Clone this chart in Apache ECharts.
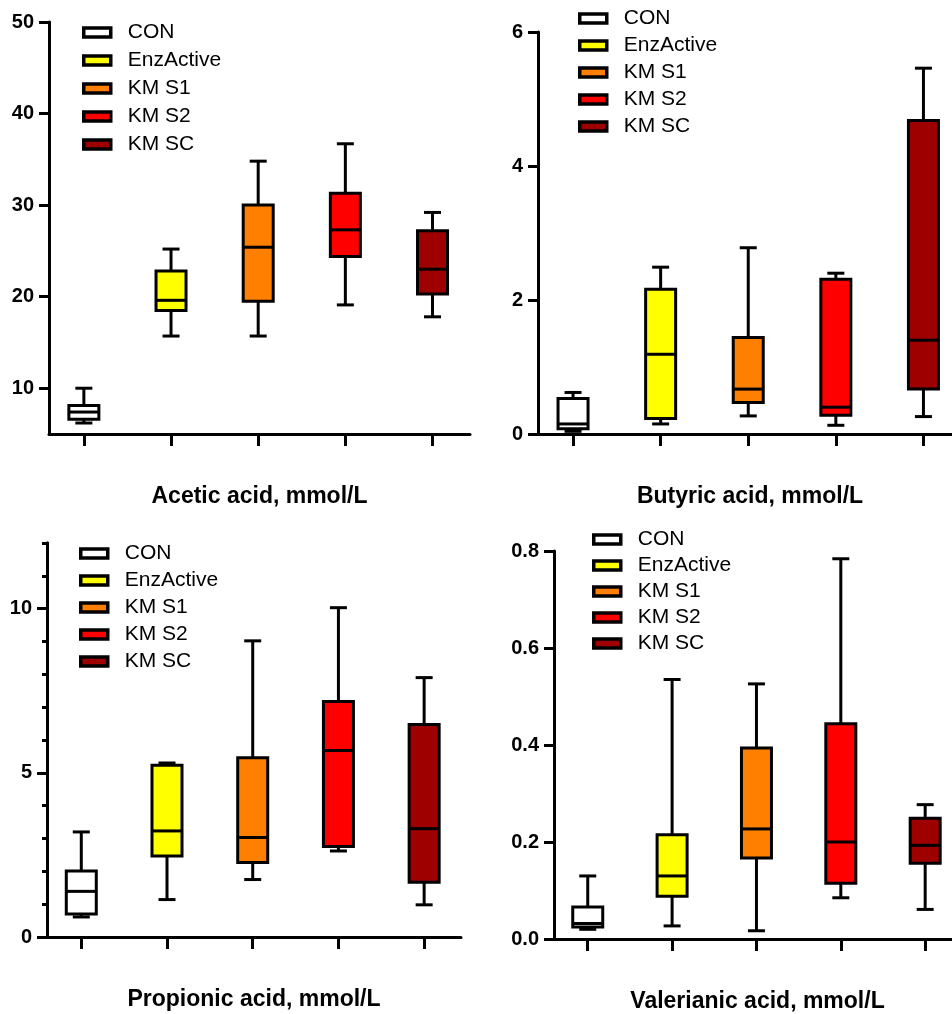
<!DOCTYPE html>
<html>
<head>
<meta charset="utf-8">
<script src="https://cdn.jsdelivr.net/npm/echarts@6/dist/echarts.min.js"></script>
<style>
  html, body { margin: 0; padding: 0; background: #fff; }
  #main { width: 952px; height: 1014px; }
</style>
</head>
<body>
<div id="main"></div>
<script>
var groups = ['CON', 'EnzActive', 'KM S1', 'KM S2', 'KM SC'];
var groupColors = ['#ffffff', '#ffff00', '#ff8000', '#ff0000', '#9e0000'];
var titles = ['Acetic acid, mmol/L', 'Butyric acid, mmol/L', 'Propionic acid, mmol/L', 'Valerianic acid, mmol/L'];

// each row: [min, Q1, median, Q3, max]
var acetic = [
    [6.2, 6.6, 7.4, 8.1, 10.0],
    [15.7, 18.5, 19.6, 22.8, 25.2],
    [15.7, 19.5, 25.4, 30.0, 34.8],
    [19.1, 24.4, 27.3, 31.3, 36.7],
    [17.8, 20.3, 23.0, 27.2, 29.2]
];
var butyric = [
    [0.04, 0.08, 0.15, 0.53, 0.62],
    [0.15, 0.23, 1.19, 2.16, 2.49],
    [0.27, 0.47, 0.67, 1.44, 2.78],
    [0.13, 0.28, 0.40, 2.31, 2.40],
    [0.26, 0.67, 1.40, 4.68, 5.46]
];
var propionic = [
    [0.61, 0.70, 1.39, 2.01, 3.20],
    [1.14, 2.47, 3.23, 5.23, 5.30],
    [1.75, 2.27, 3.03, 5.46, 9.02],
    [2.62, 2.76, 5.68, 7.17, 10.03],
    [0.98, 1.67, 3.30, 6.47, 7.90]
];
var valerianic = [
    [0.020, 0.025, 0.032, 0.066, 0.130],
    [0.027, 0.088, 0.130, 0.215, 0.535],
    [0.017, 0.167, 0.227, 0.394, 0.526],
    [0.085, 0.115, 0.200, 0.444, 0.784],
    [0.061, 0.156, 0.193, 0.249, 0.277]
];
var panelData = [acetic, butyric, propionic, valerianic];

var yMin = [5, 0, 0, 0];
var yMax = [50, 6, 12, 0.8];
var yLabels = [[10, 20, 30, 40, 50], [0, 2, 4, 6], [0, 5, 10], [0, 0.2, 0.4, 0.6, 0.8]];
var propionicMinor = [0, 1, 2, 3, 4, 5, 6, 7, 8, 9, 10, 11, 12];

// right-hand panels run off the page edge, so their x range is cut short
var xMax = [4.43, 4.326, 4.43, 4.318];
var grids = [
    { left: 49, top: 22, width: 421, height: 412 },
    { left: 538, top: 32, width: 414, height: 402 },
    { left: 47, top: 543, width: 414, height: 394 },
    { left: 554, top: 551, width: 398, height: 389 }
];
var namePad = [[0, 0, 0, 0], [0, 0, 0, 10], [0, 0, 0, 0], [0, 0, 0, 9]];
var legendPos = [
    { left: 82, top: 22, itemGap: 7 },
    { left: 578, top: 8, itemGap: 6 },
    { left: 79, top: 543, itemGap: 6 },
    { left: 592, top: 529, itemGap: 5 }
];

function renderBox(params, api) {
    var x = api.value(0);
    var pMin = api.coord([x, api.value(1)]);
    var pQ1 = api.coord([x, api.value(2)]);
    var pMed = api.coord([x, api.value(3)]);
    var pQ3 = api.coord([x, api.value(4)]);
    var pMax = api.coord([x, api.value(5)]);
    var cx = pMin[0];
    var half = 15, cap = 8.5;
    var ln = { stroke: '#000', lineWidth: 3 };
    return {
        type: 'group',
        children: [
            { type: 'line', shape: { x1: cx, y1: pMax[1], x2: cx, y2: pQ3[1] }, style: ln },
            { type: 'line', shape: { x1: cx, y1: pQ1[1], x2: cx, y2: pMin[1] }, style: ln },
            { type: 'line', shape: { x1: cx - cap, y1: pMax[1], x2: cx + cap, y2: pMax[1] }, style: ln },
            { type: 'line', shape: { x1: cx - cap, y1: pMin[1], x2: cx + cap, y2: pMin[1] }, style: ln },
            { type: 'rect', shape: { x: cx - half, y: pQ3[1], width: half * 2, height: pQ1[1] - pQ3[1] },
              style: { fill: api.visual('color'), stroke: '#000', lineWidth: 3 } },
            { type: 'line', shape: { x1: cx - half, y1: pMed[1], x2: cx + half, y2: pMed[1] }, style: ln }
        ]
    };
}

var axisLineStyle = { color: '#000', width: 3 };
var gridOpt = [], xAxes = [], yAxes = [], legends = [], series = [];

for (var p = 0; p < 4; p++) {
    gridOpt.push(grids[p]);
    xAxes.push({
        type: 'value', gridIndex: p, min: -0.4, max: xMax[p],
        name: titles[p], nameLocation: 'middle', nameGap: 51,
        nameTextStyle: { fontFamily: 'Liberation Sans', fontWeight: 'bold', fontSize: 23, color: '#000', padding: namePad[p] },
        axisLine: { onZero: false, lineStyle: axisLineStyle },
        axisTick: { customValues: [0, 1, 2, 3, 4], length: 12, lineStyle: axisLineStyle },
        axisLabel: { show: false },
        splitLine: { show: false }
    });
    yAxes.push({
        type: 'value', gridIndex: p, min: yMin[p], max: yMax[p],
        axisLine: { show: true, onZero: false, lineStyle: axisLineStyle },
        axisTick: { show: true, customValues: yLabels[p], length: 10, lineStyle: axisLineStyle },
        axisLabel: {
            customValues: yLabels[p], margin: 15,
            fontFamily: 'Liberation Sans', fontWeight: 'bold', fontSize: 20, color: '#000',
            formatter: p === 3 ? function (v) { return v.toFixed(1); } : null
        },
        splitLine: { show: false }
    });
    legends.push({
        left: legendPos[p].left, top: legendPos[p].top, orient: 'vertical', padding: 0,
        itemGap: legendPos[p].itemGap, itemWidth: 27, itemHeight: 9,
        icon: 'rect', selectedMode: false, data: groups,
        itemStyle: { borderColor: '#000', borderWidth: 3.5 },
        textStyle: { fontFamily: 'Liberation Sans', fontSize: 21, lineHeight: 21, color: '#000', padding: [0, 0, 0, 12] }
    });
    for (var g = 0; g < groups.length; g++) {
        series.push({
            type: 'custom', name: groups[g], xAxisIndex: p, yAxisIndex: p,
            itemStyle: { color: groupColors[g] },
            encode: { x: 0, y: [1, 2, 3, 4, 5] },
            renderItem: renderBox,
            data: [[g].concat(panelData[p][g])]
        });
    }
}

// short minor ticks on the propionic axis, on a twin grid
gridOpt.push(grids[2]);
xAxes.push({ type: 'value', gridIndex: 4, min: -0.4, max: xMax[2], show: false });
yAxes.push({
    type: 'value', gridIndex: 4, min: 0, max: 12,
    axisLine: { show: true, onZero: false, lineStyle: axisLineStyle },
    axisTick: { show: true, customValues: propionicMinor, length: 5, lineStyle: axisLineStyle },
    axisLabel: { show: false },
    splitLine: { show: false }
});

var chart = echarts.init(document.getElementById('main'));
chart.setOption({
    animation: false,
    backgroundColor: '#fff',
    grid: gridOpt,
    xAxis: xAxes,
    yAxis: yAxes,
    legend: legends,
    series: series
});
</script>
</body>
</html>
